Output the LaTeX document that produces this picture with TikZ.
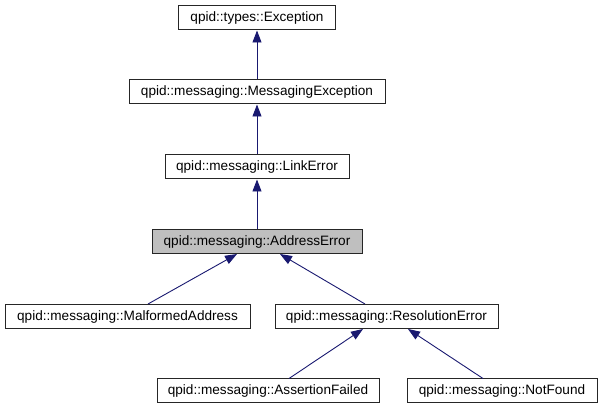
\documentclass[tikz,border=0pt]{standalone}
\usepackage{fontspec}
\setmainfont{Liberation Sans}
\usetikzlibrary{arrows.meta,calc}
\definecolor{edgeblue}{HTML}{191970}
\definecolor{nodegray}{HTML}{BFBFBF}
\begin{document}
\begin{tikzpicture}[x=1pt,y=-1pt,
  cls/.style={draw=black!85, line width=1pt, fill=white, minimum height=24pt, inner sep=0pt,
    font=\fontsize{13.6}{16}\selectfont},
  inh/.style={draw=edgeblue, line width=0.9pt, {Triangle[length=12pt,width=9pt,fill=edgeblue]}-}]
\useasboundingbox (0,0) rectangle (603,411);
\node[cls, minimum width=157pt] (exc) at (257,18) {qpid::types::Exception};
\node[cls, minimum width=256pt] (msg) at (257,92) {qpid::messaging::MessagingException};
\node[cls, minimum width=184pt] (link) at (257,167) {qpid::messaging::LinkError};
\node[cls, minimum width=210pt, fill=nodegray] (addr) at (257,241.5) {qpid::messaging::AddressError};
\node[cls, minimum width=245pt] (mal) at (127.5,316.5) {qpid::messaging::MalformedAddress};
\node[cls, minimum width=223pt] (res) at (386.5,316.5) {qpid::messaging::ResolutionError};
\node[cls, minimum width=222pt] (ass) at (268,391) {qpid::messaging::AssertionFailed};
\node[cls, minimum width=190pt] (nf) at (502,391) {qpid::messaging::NotFound};
\draw[inh] (exc.south) -- (msg.north);
\draw[inh] (msg.south) -- (link.north);
\draw[inh] (link.south) -- (addr.north);
\draw[inh] ([xshift=-20pt]addr.south) -- ([xshift=20.5pt]mal.north);
\draw[inh] ([xshift=23pt]addr.south) -- ([xshift=-21.5pt]res.north);
\draw[inh] ([xshift=-23.5pt]res.south) -- ([xshift=21pt]ass.north);
\draw[inh] ([xshift=21.5pt]res.south) -- ([xshift=-19pt]nf.north);
\end{tikzpicture}
\end{document}
